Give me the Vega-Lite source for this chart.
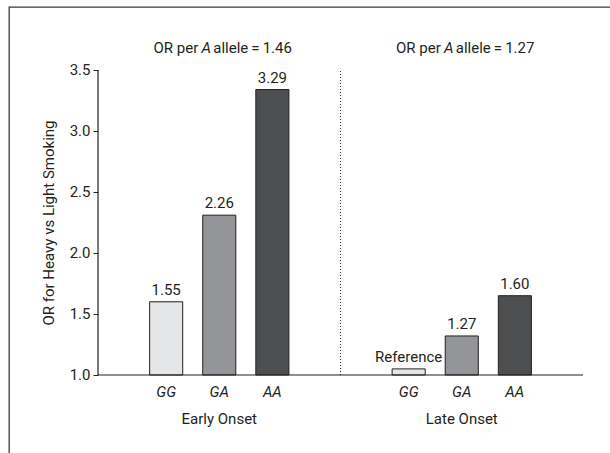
{
  "$schema": "https://vega.github.io/schema/vega-lite/v6.json",
  "width": 604,
  "height": 449,
  "autosize": {"type": "none"},
  "padding": {"left": 9, "top": 7, "right": -3, "bottom": -3},
  "background": "white",
  "config": {
    "font": "Roboto",
    "view": {"stroke": "#3a3a3a", "strokeWidth": 1.3},
    "axis": {"labelFont": "Roboto", "titleFont": "Roboto", "labelColor": "#231f20", "titleColor": "#231f20", "grid": false},
    "text": {"font": "Roboto", "fontSize": 15, "color": "#231f20"}
  },
  "datasets": {
    "bars": [
      {"onset": "Early Onset", "genotype": "GG", "height": 1.60, "label": "1.55"},
      {"onset": "Early Onset", "genotype": "GA", "height": 2.31, "label": "2.26"},
      {"onset": "Early Onset", "genotype": "AA", "height": 3.34, "label": "3.29"},
      {"onset": "Late Onset", "genotype": "GG", "height": 1.05, "label": "Reference"},
      {"onset": "Late Onset", "genotype": "GA", "height": 1.32, "label": "1.27"},
      {"onset": "Late Onset", "genotype": "AA", "height": 1.65, "label": "1.60"}
    ],
    "headers": [
      {"onset": "Early Onset", "tail": "allele\u2009=\u20091.46"},
      {"onset": "Late Onset", "tail": "allele\u2009=\u20091.27"}
    ]
  },
  "data": {"name": "bars"},
  "encoding": {
    "x": {
      "field": "onset",
      "type": "nominal",
      "sort": ["Early Onset", "Late Onset"],
      "scale": {"paddingInner": 0, "paddingOuter": 0.2454, "align": 0.748},
      "axis": {"orient": "bottom", "offset": -81, "title": null, "domain": false, "ticks": false, "tickSize": 0, "labelPadding": 43, "labelBaseline": "middle", "labelFontSize": 15, "labelAngle": 0}
    }
  },
  "layer": [
    {
      "mark": {"type": "bar", "stroke": "#231f20", "strokeWidth": 1},
      "encoding": {
        "xOffset": {"field": "genotype", "type": "nominal", "sort": ["GG", "GA", "AA"], "scale": {"paddingInner": 0.377, "paddingOuter": 0.972}},
        "y": {
          "field": "height",
          "type": "quantitative",
          "scale": {"domain": [0.336, 4.0164], "nice": false, "zero": false},
          "axis": {"orient": "left", "offset": -89, "values": [1, 1.5, 2, 2.5, 3, 3.5], "format": ".1f", "domain": false, "tickSize": 5, "tickColor": "#231f20", "labelPadding": 3, "labelFontSize": 15, "title": "OR for Heavy vs Light Smoking", "titleFontSize": 15, "titleFontWeight": "normal", "titleX": -50, "titleY": 215.5, "titleBaseline": "middle"}
        },
        "y2": {"datum": 1},
        "fill": {"field": "genotype", "type": "nominal", "scale": {"domain": ["GG", "GA", "AA"], "range": ["#e5e6e7", "#939598", "#4d4e50"]}, "legend": null}
      }
    },
    {
      "mark": {"type": "text", "baseline": "bottom", "dy": -4},
      "encoding": {
        "xOffset": {"field": "genotype", "type": "nominal", "sort": ["GG", "GA", "AA"], "scale": {"paddingInner": 0.377, "paddingOuter": 0.972}},
        "y": {"field": "height", "type": "quantitative"},
        "text": {"field": "label"}
      }
    },
    {
      "mark": {"type": "text", "baseline": "middle", "dy": 17, "fontStyle": "italic"},
      "encoding": {
        "xOffset": {"field": "genotype", "type": "nominal", "sort": ["GG", "GA", "AA"], "scale": {"paddingInner": 0.377, "paddingOuter": 0.972}},
        "y": {"datum": 1},
        "text": {"field": "genotype"}
      }
    },
    {
      "data": {"values": [{}]},
      "mark": {"type": "rule", "color": "#231f20", "strokeWidth": 1.2},
      "encoding": {
        "x": {"datum": "Early Onset", "bandPosition": 0},
        "y": {"datum": 1},
        "y2": {"datum": 3.5}
      }
    },
    {
      "data": {"values": [{}]},
      "mark": {"type": "rule", "color": "#231f20", "strokeWidth": 1.2},
      "encoding": {
        "x": {"datum": "Early Onset", "bandPosition": 0},
        "x2": {"datum": "Late Onset", "bandPosition": 1},
        "y": {"datum": 1}
      }
    },
    {
      "data": {"values": [{}]},
      "mark": {"type": "rule", "color": "#231f20", "strokeWidth": 1, "strokeDash": [1, 2]},
      "encoding": {
        "x": {"datum": "Late Onset", "bandPosition": 0},
        "y": {"datum": 1},
        "y2": {"datum": 3.51}
      }
    },
    {
      "data": {"name": "headers"},
      "mark": {"type": "text", "baseline": "middle", "align": "right", "dx": -21},
      "encoding": {"y": {"datum": 3.684}, "text": {"value": "OR per"}}
    },
    {
      "data": {"name": "headers"},
      "mark": {"type": "text", "baseline": "middle", "align": "center", "dx": -13, "fontStyle": "italic"},
      "encoding": {"y": {"datum": 3.684}, "text": {"value": "A"}}
    },
    {
      "data": {"name": "headers"},
      "mark": {"type": "text", "baseline": "middle", "align": "left", "dx": -6},
      "encoding": {"y": {"datum": 3.684}, "text": {"field": "tail"}}
    }
  ]
}
